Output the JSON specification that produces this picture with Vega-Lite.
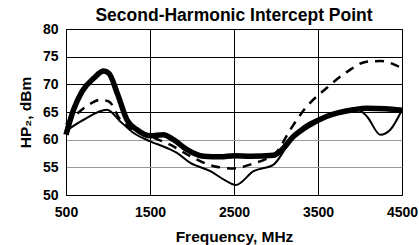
{
  "$schema": "https://vega.github.io/schema/vega-lite/v6.json",
  "width": 336,
  "height": 166,
  "autosize": {"type": "none"},
  "padding": {"left": 66, "top": 29, "right": 17, "bottom": 50},
  "background": "white",
  "title": {
    "text": "Second-Harmonic Intercept Point",
    "font": "Liberation Sans",
    "fontSize": 17.5,
    "fontWeight": "bold",
    "color": "#000",
    "anchor": "middle",
    "offset": -2
  },
  "config": {
    "view": {"stroke": "#000", "strokeWidth": 1},
    "axis": {
      "labelFont": "Liberation Sans",
      "labelFontSize": 14,
      "labelFontWeight": "bold",
      "labelColor": "#000",
      "titleFont": "Liberation Sans",
      "titleFontSize": 15.5,
      "titleFontWeight": "bold",
      "titleColor": "#000",
      "ticks": false,
      "domainColor": "#000"
    }
  },
  "data": {
    "values": [
      {"series": "A", "f": 500, "v": 60.9},
      {"series": "A", "f": 590, "v": 65.4},
      {"series": "A", "f": 690, "v": 68.7},
      {"series": "A", "f": 830, "v": 71.1},
      {"series": "A", "f": 950, "v": 72.4},
      {"series": "A", "f": 1010, "v": 72.0},
      {"series": "A", "f": 1110, "v": 68.4},
      {"series": "A", "f": 1225, "v": 63.6},
      {"series": "A", "f": 1345, "v": 61.8},
      {"series": "A", "f": 1505, "v": 60.7},
      {"series": "A", "f": 1660, "v": 60.9},
      {"series": "A", "f": 1780, "v": 60.0},
      {"series": "A", "f": 1940, "v": 58.2},
      {"series": "A", "f": 2140, "v": 57.0},
      {"series": "A", "f": 2340, "v": 56.9},
      {"series": "A", "f": 2500, "v": 57.1},
      {"series": "A", "f": 2700, "v": 57.0},
      {"series": "A", "f": 2970, "v": 57.2},
      {"series": "A", "f": 3050, "v": 57.9},
      {"series": "A", "f": 3210, "v": 60.6},
      {"series": "A", "f": 3370, "v": 62.4},
      {"series": "A", "f": 3600, "v": 64.2},
      {"series": "A", "f": 3920, "v": 65.4},
      {"series": "A", "f": 4080, "v": 65.7},
      {"series": "A", "f": 4300, "v": 65.6},
      {"series": "A", "f": 4500, "v": 65.3},
      {"series": "B", "f": 500, "v": 62.7},
      {"series": "B", "f": 770, "v": 66.3},
      {"series": "B", "f": 910, "v": 67.2},
      {"series": "B", "f": 1010, "v": 66.9},
      {"series": "B", "f": 1146, "v": 63.6},
      {"series": "B", "f": 1265, "v": 62.1},
      {"series": "B", "f": 1500, "v": 60.6},
      {"series": "B", "f": 1740, "v": 59.1},
      {"series": "B", "f": 1980, "v": 57.0},
      {"series": "B", "f": 2260, "v": 55.2},
      {"series": "B", "f": 2500, "v": 54.8},
      {"series": "B", "f": 2730, "v": 55.7},
      {"series": "B", "f": 2850, "v": 56.3},
      {"series": "B", "f": 3000, "v": 57.6},
      {"series": "B", "f": 3170, "v": 61.8},
      {"series": "B", "f": 3350, "v": 65.7},
      {"series": "B", "f": 3600, "v": 69.3},
      {"series": "B", "f": 3850, "v": 72.3},
      {"series": "B", "f": 4080, "v": 74.1},
      {"series": "B", "f": 4250, "v": 74.2},
      {"series": "B", "f": 4500, "v": 72.9},
      {"series": "C", "f": 500, "v": 61.6},
      {"series": "C", "f": 710, "v": 63.6},
      {"series": "C", "f": 988, "v": 65.4},
      {"series": "C", "f": 1146, "v": 63.3},
      {"series": "C", "f": 1305, "v": 61.2},
      {"series": "C", "f": 1503, "v": 59.7},
      {"series": "C", "f": 1702, "v": 58.5},
      {"series": "C", "f": 1821, "v": 57.6},
      {"series": "C", "f": 1980, "v": 55.8},
      {"series": "C", "f": 2218, "v": 54.3},
      {"series": "C", "f": 2400, "v": 52.6},
      {"series": "C", "f": 2520, "v": 51.8},
      {"series": "C", "f": 2733, "v": 54.3},
      {"series": "C", "f": 2971, "v": 55.5},
      {"series": "C", "f": 3131, "v": 58.8},
      {"series": "C", "f": 3329, "v": 62.4},
      {"series": "C", "f": 3527, "v": 63.9},
      {"series": "C", "f": 3765, "v": 64.8},
      {"series": "C", "f": 3964, "v": 65.5},
      {"series": "C", "f": 4083, "v": 64.2},
      {"series": "C", "f": 4242, "v": 60.9},
      {"series": "C", "f": 4361, "v": 61.8},
      {"series": "C", "f": 4500, "v": 65.4}
    ]
  },
  "encoding": {
    "x": {
      "field": "f",
      "type": "quantitative",
      "scale": {"domain": [500, 4500], "nice": false, "zero": false},
      "axis": {
        "values": [500, 1500, 2500, 3500, 4500],
        "format": "d",
        "title": "Frequency, MHz",
        "labelPadding": 10,
        "titlePadding": 10,
        "gridColor": "#000",
        "gridOpacity": 1,
        "labelFlush": false
      }
    },
    "y": {
      "field": "v",
      "type": "quantitative",
      "scale": {"domain": [50, 80], "nice": false, "zero": false},
      "axis": {
        "values": [50, 55, 60, 65, 70, 75, 80],
        "format": "d",
        "title": "HP₂, dBm",
        "labelPadding": 8,
        "titlePadding": 9,
        "gridOpacity": 1,
        "gridColor": {"condition": {"test": "datum.value <= 60", "value": "#999"}, "value": "#000"}
      }
    }
  },
  "layer": [
    {
      "transform": [{"filter": "datum.series === 'C'"}],
      "mark": {"type": "line", "color": "#000", "strokeWidth": 2, "interpolate": "monotone"}
    },
    {
      "transform": [{"filter": "datum.series === 'B'"}],
      "mark": {"type": "line", "color": "#000", "strokeWidth": 2.5, "strokeDash": [9, 7], "interpolate": "monotone"}
    },
    {
      "transform": [{"filter": "datum.series === 'A'"}],
      "mark": {"type": "line", "color": "#000", "strokeWidth": 5.5, "interpolate": "monotone"}
    }
  ]
}
